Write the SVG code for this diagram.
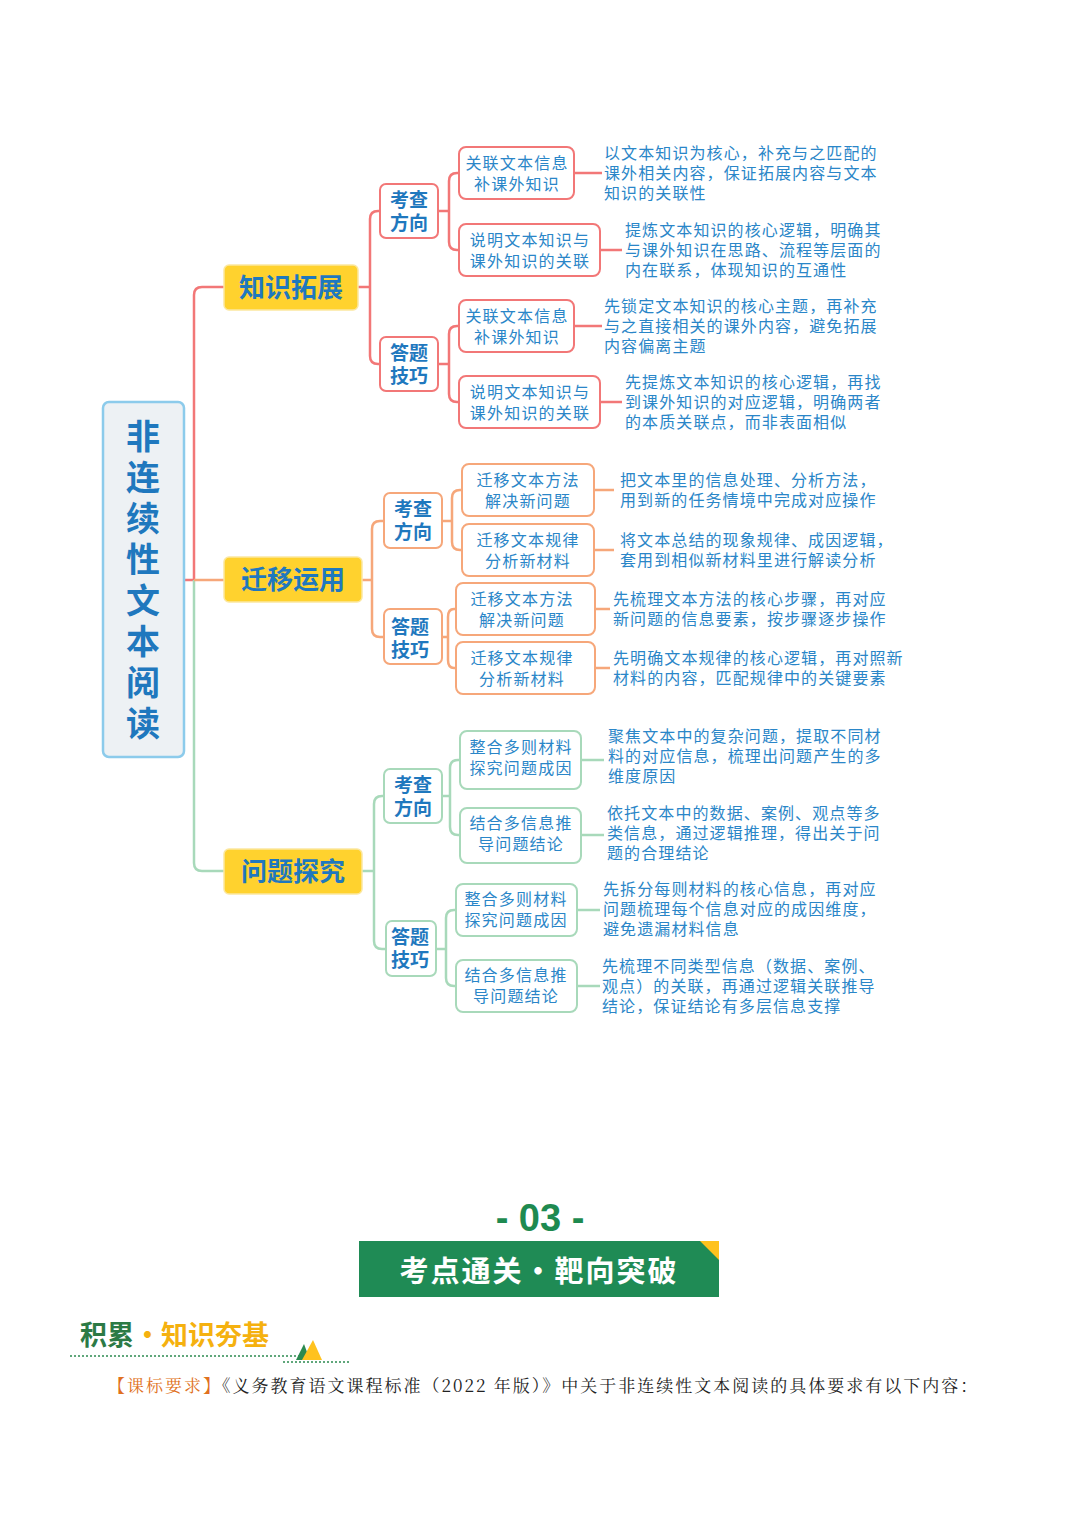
<svg xmlns="http://www.w3.org/2000/svg" width="1080" height="1527" viewBox="0 0 1080 1527">
<style>
.t{font-family:"Noto Sans CJK SC",sans-serif;fill:#2A86C8;}
.d{font-size:16px;letter-spacing:1.1px;}
.l3{font-size:16px;text-anchor:middle;letter-spacing:1.2px;}
.l2{font-size:19px;font-weight:bold;text-anchor:middle;fill:#1F78BE;}
.l1{font-size:26px;font-weight:bold;text-anchor:middle;fill:#1F78BE;}
.y{fill:#FFD22E;stroke:#FBE7A0;stroke-width:1.5;}
.r{fill:#fff;stroke:#F27777;stroke-width:2;}
.o{fill:#fff;stroke:#F6A77A;stroke-width:2;}
.g{fill:#fff;stroke:#A8D9BA;stroke-width:2;}
.cr{fill:none;stroke:#F27777;stroke-width:2.5;}
.co{fill:none;stroke:#F6A77A;stroke-width:2.5;}
.cg{fill:none;stroke:#A8D9BA;stroke-width:2.5;}
</style>
<rect width="1080" height="1527" fill="#fff"/>
<g id="connectors">
<path class="cr" d="M184 580 H194 M194 580 V295 Q194 287 202 287 H224"/>
<path class="cg" d="M194 580 V863 Q194 871 202 871 H224"/>
<path class="co" d="M194 580 H224"/>
<path class="cr" d="M358 287 H370 M370 287 V219 Q370 211 378 211 H380 M370 287 V356 Q370 364 378 364 H380"/>
<path class="cr" d="M438 211 H449 M449 211 V181 Q449 173 457 173 H459 M449 211 V242 Q449 250 457 250 H459"/>
<path class="cr" d="M438 364 H449 M449 364 V334 Q449 326 457 326 H459 M449 364 V394 Q449 402 457 402 H459"/>
<path class="cr" d="M574 173 H602 M600 250 H622 M574 326 H602 M600 402 H622"/>
<path class="co" d="M362 580 H372 M372 580 V529 Q372 521 380 521 H384 M372 580 V629 Q372 637 380 637 H384"/>
<path class="co" d="M442 521 H452 M452 521 V498 Q452 490 460 490 H462 M452 521 V542 Q452 550 460 550 H462"/>
<path class="co" d="M442 637 H448 M448 637 V617 Q448 609 454 609 H456 M448 637 V660 Q448 668 454 668 H456"/>
<path class="co" d="M594 490 H614 M594 550 H614 M595 609 H610 M595 668 H610"/>
<path class="cg" d="M362 871 H374 M374 871 V804 Q374 796 382 796 H384 M374 871 V941 Q374 949 382 949 H386"/>
<path class="cg" d="M442 796 H450 M450 796 V768 Q450 760 458 760 H460 M450 796 V827 Q450 835 458 835 H460"/>
<path class="cg" d="M436 949 H446 M446 949 V918 Q446 910 454 910 H456 M446 949 V978 Q446 986 454 986 H456"/>
<path class="cg" d="M581 760 H604 M581 835 H604 M577 910 H600 M577 986 H600"/>
</g>
<g id="root">
<rect x="103" y="402" width="81" height="355" rx="6" fill="#EDF1F4" stroke="#8CCBEB" stroke-width="2.5"/>
<text class="t" style="font-size:34px;font-weight:bold;fill:#1F78BE" text-anchor="middle" x="143"><tspan x="143" y="449">非</tspan><tspan x="143" y="490">连</tspan><tspan x="143" y="531">续</tspan><tspan x="143" y="572">性</tspan><tspan x="143" y="613">文</tspan><tspan x="143" y="654">本</tspan><tspan x="143" y="695">阅</tspan><tspan x="143" y="736">读</tspan></text>
</g>
<g id="b1">
<rect class="y" x="224" y="265" width="134" height="45" rx="5"/><text class="t l1" x="291" y="297">知识拓展</text>
<rect class="r" x="380" y="184" width="58" height="54" rx="6"/><text class="t l2" x="409" y="207">考查</text><text class="t l2" x="409" y="230">方向</text>
<rect class="r" x="380" y="337" width="58" height="54" rx="6"/><text class="t l2" x="409" y="360">答题</text><text class="t l2" x="409" y="383">技巧</text>
<rect class="r" x="459" y="147" width="115" height="52" rx="7"/><text class="t l3" x="517" y="169">关联文本信息</text><text class="t l3" x="517" y="190">补课外知识</text>
<rect class="r" x="459" y="224" width="141" height="52" rx="7"/><text class="t l3" x="530" y="246">说明文本知识与</text><text class="t l3" x="530" y="267">课外知识的关联</text>
<rect class="r" x="459" y="300" width="115" height="52" rx="7"/><text class="t l3" x="517" y="322">关联文本信息</text><text class="t l3" x="517" y="343">补课外知识</text>
<rect class="r" x="459" y="376" width="141" height="52" rx="7"/><text class="t l3" x="530" y="398">说明文本知识与</text><text class="t l3" x="530" y="419">课外知识的关联</text>
<text class="t d" x="604" y="159">以文本知识为核心，补充与之匹配的</text><text class="t d" x="604" y="179">课外相关内容，保证拓展内容与文本</text><text class="t d" x="604" y="199">知识的关联性</text>
<text class="t d" x="625" y="236">提炼文本知识的核心逻辑，明确其</text><text class="t d" x="625" y="256">与课外知识在思路、流程等层面的</text><text class="t d" x="625" y="276">内在联系，体现知识的互通性</text>
<text class="t d" x="604" y="312">先锁定文本知识的核心主题，再补充</text><text class="t d" x="604" y="332">与之直接相关的课外内容，避免拓展</text><text class="t d" x="604" y="352">内容偏离主题</text>
<text class="t d" x="625" y="388">先提炼文本知识的核心逻辑，再找</text><text class="t d" x="625" y="408">到课外知识的对应逻辑，明确两者</text><text class="t d" x="625" y="428">的本质关联点，而非表面相似</text>
</g>
<g id="b2">
<rect class="y" x="224" y="557" width="138" height="45" rx="5"/><text class="t l1" x="293" y="589">迁移运用</text>
<rect class="o" x="384" y="493" width="58" height="55" rx="6"/><text class="t l2" x="413" y="516">考查</text><text class="t l2" x="413" y="539">方向</text>
<rect class="o" x="384" y="609" width="58" height="55" rx="6"/><text class="t l2" x="410" y="634">答题</text><text class="t l2" x="410" y="657">技巧</text>
<rect class="o" x="462" y="464" width="132" height="52" rx="7"/><text class="t l3" x="528" y="486">迁移文本方法</text><text class="t l3" x="528" y="507">解决新问题</text>
<rect class="o" x="462" y="524" width="132" height="52" rx="7"/><text class="t l3" x="528" y="546">迁移文本规律</text><text class="t l3" x="528" y="567">分析新材料</text>
<rect class="o" x="456" y="583" width="139" height="52" rx="7"/><text class="t l3" x="522" y="605">迁移文本方法</text><text class="t l3" x="522" y="626">解决新问题</text>
<rect class="o" x="456" y="642" width="139" height="52" rx="7"/><text class="t l3" x="522" y="664">迁移文本规律</text><text class="t l3" x="522" y="685">分析新材料</text>
<text class="t d" x="620" y="486">把文本里的信息处理、分析方法，</text><text class="t d" x="620" y="506">用到新的任务情境中完成对应操作</text>
<text class="t d" x="620" y="546">将文本总结的现象规律、成因逻辑，</text><text class="t d" x="620" y="566">套用到相似新材料里进行解读分析</text>
<text class="t d" x="613" y="605">先梳理文本方法的核心步骤，再对应</text><text class="t d" x="613" y="625">新问题的信息要素，按步骤逐步操作</text>
<text class="t d" x="613" y="664">先明确文本规律的核心逻辑，再对照新</text><text class="t d" x="613" y="684">材料的内容，匹配规律中的关键要素</text>
</g>
<g id="b3">
<rect class="y" x="224" y="849" width="138" height="45" rx="5"/><text class="t l1" x="293" y="881">问题探究</text>
<rect class="g" x="384" y="769" width="58" height="54" rx="6"/><text class="t l2" x="413" y="792">考查</text><text class="t l2" x="413" y="815">方向</text>
<rect class="g" x="386" y="921" width="50" height="55" rx="6"/><text class="t l2" x="410" y="944">答题</text><text class="t l2" x="410" y="967">技巧</text>
<rect class="g" x="460" y="731" width="121" height="58" rx="7"/><text class="t l3" x="521" y="753">整合多则材料</text><text class="t l3" x="521" y="774">探究问题成因</text>
<rect class="g" x="460" y="808" width="121" height="55" rx="7"/><text class="t l3" x="521" y="829">结合多信息推</text><text class="t l3" x="521" y="850">导问题结论</text>
<rect class="g" x="456" y="884" width="121" height="52" rx="7"/><text class="t l3" x="516" y="905">整合多则材料</text><text class="t l3" x="516" y="926">探究问题成因</text>
<rect class="g" x="456" y="960" width="121" height="52" rx="7"/><text class="t l3" x="516" y="981">结合多信息推</text><text class="t l3" x="516" y="1002">导问题结论</text>
<text class="t d" x="608" y="742">聚焦文本中的复杂问题，提取不同材</text><text class="t d" x="608" y="762">料的对应信息，梳理出问题产生的多</text><text class="t d" x="608" y="782">维度原因</text>
<text class="t d" x="607" y="819">依托文本中的数据、案例、观点等多</text><text class="t d" x="607" y="839">类信息，通过逻辑推理，得出关于问</text><text class="t d" x="607" y="859">题的合理结论</text>
<text class="t d" x="603" y="895">先拆分每则材料的核心信息，再对应</text><text class="t d" x="603" y="915">问题梳理每个信息对应的成因维度，</text><text class="t d" x="603" y="935">避免遗漏材料信息</text>
<text class="t d" x="602" y="972">先梳理不同类型信息（数据、案例、</text><text class="t d" x="602" y="992">观点）的关联，再通过逻辑关联推导</text><text class="t d" x="602" y="1012">结论，保证结论有多层信息支撑</text>
</g>
<g id="footer">
<text x="540" y="1231" text-anchor="middle" style="font-family:'Liberation Sans',sans-serif;font-size:38px;font-weight:bold;fill:#1E8A50">- 03 -</text>
<rect x="359" y="1241" width="360" height="56" fill="#1F8B55"/>
<polygon points="700,1241 719,1241 719,1260" fill="#FFC21E"/>
<text x="539" y="1282" text-anchor="middle" style="font-family:'Noto Sans CJK SC',sans-serif;font-size:29px;font-weight:bold;fill:#fff;letter-spacing:2px">考点通关・靶向突破</text>
<text x="80" y="1345" style="font-family:'Noto Sans CJK SC',sans-serif;font-size:27px;font-weight:bold"><tspan fill="#2C7A45">积累</tspan><tspan fill="#F5B10F">・知识夯基</tspan></text>
<path d="M70 1356 H300 M283 1362 H350" stroke="#2C8A50" stroke-width="1.5" stroke-dasharray="2 2"/>
<polygon points="296,1360 304,1344 310,1360" fill="#2C8A50"/>
<polygon points="302,1360 313,1340 322,1360" fill="#FFC21E"/>
<text x="108" y="1392" style="font-family:'Noto Serif CJK SC','Liberation Serif','Noto Sans CJK SC',serif;font-size:17px;fill:#222;letter-spacing:2px"><tspan fill="#E07020">【课标要求】</tspan>《义务教育语文课程标准（2022 年版）》中关于非连续性文本阅读的具体要求有以下内容：</text>
</g>
</svg>
